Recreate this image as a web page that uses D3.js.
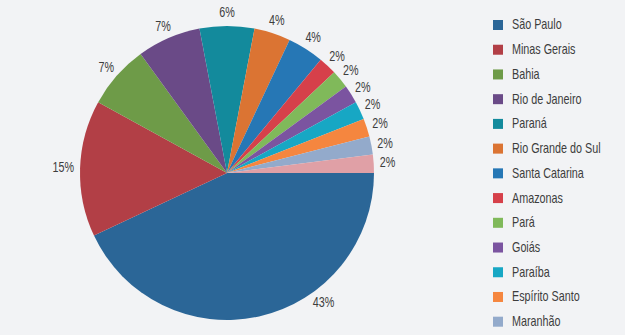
<!DOCTYPE html>
<html>
<head>
<meta charset="utf-8">
<script src="https://cdn.jsdelivr.net/npm/d3@7"></script>
<style>
  body { margin: 0; background: #f2f3f5; }
  svg { display: block; font-family: "Liberation Sans", Arial, sans-serif; }
</style>
</head>
<body>
<script>
// states and their share (%)
let states = ["São Paulo", "Minas Gerais", "Bahia", "Rio de Janeiro", "Paraná", "Rio Grande do Sul",
              "Santa Catarina", "Amazonas", "Pará", "Goiás", "Paraíba", "Espírito Santo", "Maranhão", "Pernambuco"];
let shares = [43, 15, 7, 7, 6, 4, 4, 2, 2, 2, 2, 2, 2, 2];
let colors = ["#2b6697", "#b23f46", "#6e9b48", "#6a4a87", "#138a9c", "#db7433", "#2677b5",
              "#d6404a", "#80b95a", "#7b54a0", "#17a7c4", "#f5863f", "#93aacb", "#e0a0a6"];

let width = 625, height = 335;
let cx = 227, cy = 173, radius = 147;
let fontSize = 14;
let narrow = 0.77;        // condensed look
let plotBottom = 310;     // labels are kept above this line

let svg = d3.select("body").append("svg")
    .attr("width", width)
    .attr("height", height);

let data = states.map((s, i) => ({name: s, value: shares[i], color: colors[i]}));

// starts at 3 o'clock, goes clockwise
let pie = d3.pie()
    .value(d => d.value)
    .sort(null)
    .startAngle(Math.PI / 2)
    .endAngle(Math.PI / 2 + 2 * Math.PI);

let arc = d3.arc().innerRadius(0).outerRadius(radius);
let arcs = pie(data);

let g = svg.append("g").attr("transform", `translate(${cx},${cy})`);

g.selectAll("path")
  .data(arcs)
  .join("path")
    .attr("d", arc)
    .attr("fill", d => d.data.color);

function labelPos(a, w) {
    let s = Math.sin(a), c = -Math.cos(a);
    return [s * (radius + 6) + s * w, c * (radius + 6) + c * 7];
}

// percent labels just outside the rim, slid along the rim if they'd fall off the bottom
g.selectAll("text")
  .data(arcs)
  .join("text")
    .attr("font-size", fontSize)
    .attr("fill", "#3d3d3d")
    .attr("text-anchor", "middle")
    .attr("dominant-baseline", "central")
    .text(d => d.data.value + "%")
    .each(function(d) {
        let a = (d.startAngle + d.endAngle) / 2;
        let w = this.getComputedTextLength() * narrow / 2;
        let p = labelPos(a, w);
        while (cy + p[1] + 7 > plotBottom && a > d.startAngle) {
            a -= 0.01;
            p = labelPos(a, w);
        }
        d3.select(this).attr("transform", `translate(${p[0]},${p[1]}) scale(${narrow},1)`);
    });

// legend
let legY = d3.scaleLinear().domain([0, 12]).range([25, 321.7]);
let legend = svg.append("g")
  .selectAll("g")
  .data(data.filter((d, i) => legY(i) < height))
  .join("g")
    .attr("transform", (d, i) => `translate(493,${legY(i)})`);

legend.append("rect")
    .attr("x", 0)
    .attr("y", -5)
    .attr("width", 10)
    .attr("height", 10)
    .attr("fill", d => d.color);

legend.append("text")
    .attr("transform", `translate(19,0) scale(${narrow},1)`)
    .attr("dominant-baseline", "central")
    .attr("font-size", fontSize)
    .attr("fill", "#3d3d3d")
    .text(d => d.name);
</script>
</body>
</html>
